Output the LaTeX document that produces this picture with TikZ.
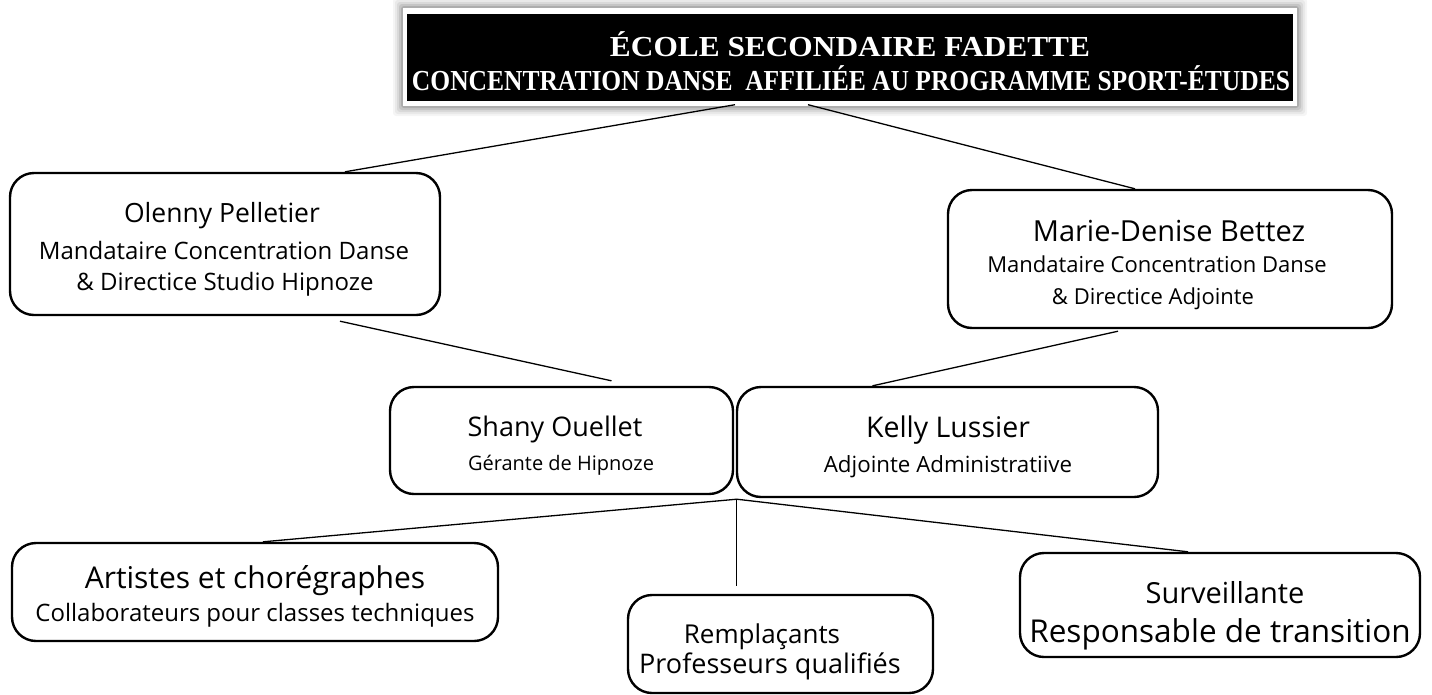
\documentclass[tikz,border=0pt]{standalone}
\usepackage{fontspec}
\setmainfont{Open Sans}
\newfontfamily\titlefont{Liberation Serif}
\usetikzlibrary{calc}
\tikzset{
  box/.style={draw, line width=2.4pt, rounded corners=24pt, inner sep=0pt, fill=white},
  nametext/.style={anchor=base, inner sep=0pt, font=\fontsize{#1}{#1}\selectfont},
  nametext/.default=28,
  subtext/.style={anchor=base, inner sep=0pt, font=\fontsize{#1}{#1}\selectfont},
  subtext/.default=24,
  link/.style={line width=1.3pt},
  titlebox/.style={fill=black, inner sep=0pt, minimum width=886pt, minimum height=87pt},
  titletext/.style={anchor=base, inner sep=0pt, text=white, font=\titlefont\bfseries\fontsize{29}{29}\selectfont},
}
\begin{document}
\begin{tikzpicture}[x=1pt,y=-1pt]
\useasboundingbox (0,0) rectangle (1432,694);
% title glow
\foreach \g/\o in {10/0.04,8/0.05,6/0.07,4/0.09,2/0.12}{
  \fill[black,opacity=\o,rounded corners=3pt] (403-\g,8-\g) rectangle (1297+\g,106+\g);
}
\fill[white] (403,8) rectangle (1297,106);
\node[titlebox] (title) at (850,57) {};
\node[titletext] (t1) at (850,56) {\resizebox{480pt}{\height}{ÉCOLE SECONDAIRE FADETTE}};
\node[titletext] (t2) at (851,90) {\resizebox{878pt}{\height}{CONCENTRATION DANSE\ \ AFFILIÉE AU PROGRAMME SPORT-ÉTUDES}};

% boxes
\node[box, minimum width=430pt, minimum height=142pt] (olenny) at (225,244) {};
\node[box, minimum width=444pt, minimum height=138pt] (marie) at (1170,259) {};
\node[box, minimum width=343pt, minimum height=107pt] (shany) at (561.5,440.5) {};
\node[box, minimum width=421pt, minimum height=110pt] (kelly) at (947.5,442) {};
\node[box, minimum width=486pt, minimum height=98pt] (artistes) at (255,592) {};
\node[box, minimum width=305pt, minimum height=98pt] (rempl) at (780.5,644) {};
\node[box, minimum width=400pt, minimum height=104pt] (surv) at (1220,605) {};

% texts
\node[nametext=26.5] (olenny1) at (222,222) {Olenny Pelletier};
\node[subtext] (olenny2) at (224,259) {Mandataire Concentration Danse};
\node[subtext] (olenny3) at (225,290) {\& Directice Studio Hipnoze};

\node[nametext=29] (marie1) at (1169,241) {Marie-Denise Bettez};
\node[subtext=22] (marie2) at (1157,272) {Mandataire Concentration Danse};
\node[subtext=22] (marie3) at (1153,304) {\& Directice Adjointe};

\node[nametext=27] (shany1) at (555,436) {Shany Ouellet};
\node[subtext=20] (shany2) at (561,470) {Gérante de Hipnoze};

\node[nametext=28.5] (kelly1) at (948,437) {Kelly Lussier};
\node[subtext=22.3] (kelly2) at (948,472) {Adjointe Administratiive};

\node[nametext=30] (art1) at (255,588) {Artistes et chorégraphes};
\node[subtext] (art2) at (255,621) {Collaborateurs pour classes techniques};

\node[nametext=26] (rempl1) at (762,643) {Remplaçants};
\node[subtext=27] (rempl2) at (770,673) {Professeurs qualifiés};

\node[nametext=29] (surv1) at (1225,603) {Surveillante};
\node[subtext=31.5] (surv2) at (1220,642) {Responsable de transition};

% connectors
\coordinate (hub) at ($(kelly.south west)+(1,1)$);
\coordinate (remtop) at ($(hub)+(0,87)$);

\draw[link] ($(title.south)+(-115,4)$) -- ($(olenny.north)+(120,0)$);
\draw[link] ($(title.south)+(-42,4)$) -- ($(marie.north)+(-35,0)$);
\draw[link] ($(olenny.south)+(115,5)$) -- ($(shany.north)+(50,-5)$);
\draw[link] ($(marie.south)+(-52,2)$) -- ($(kelly.north)+(-75,0)$);
\draw[link] (hub) -- ($(artistes.north)+(8,0)$);
\draw[link] (hub) -- (remtop);
\draw[link] (hub) -- ($(surv.north)+(-32,0)$);
\end{tikzpicture}
\end{document}
